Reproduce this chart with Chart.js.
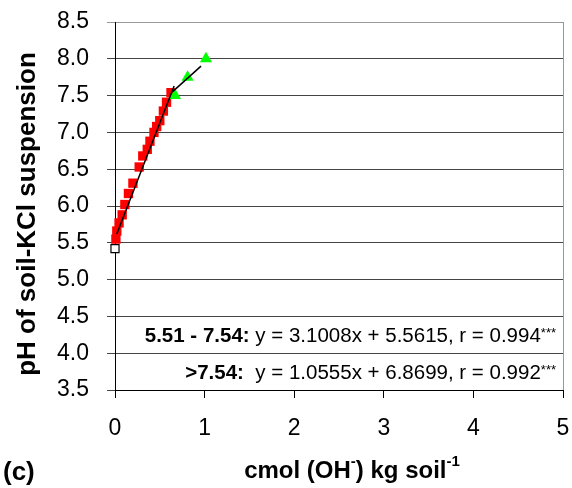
<!DOCTYPE html>
<html>
<head>
<meta charset="utf-8">
<script src="https://cdn.jsdelivr.net/npm/chart.js@4.4.1/dist/chart.umd.min.js"></script>
<style>
  html, body { margin: 0; padding: 0; background: #fff; }
  #wrap { width: 572px; height: 488px; }
</style>
</head>
<body>
<div id="wrap"><canvas id="chart"></canvas></div>
<script>
// pH 5.51 - 7.54 range (red squares)
const redX = [0.01, 0.02, 0.045, 0.08, 0.11, 0.15, 0.20, 0.27, 0.31, 0.36, 0.39, 0.435, 0.465, 0.50, 0.54, 0.575, 0.625];
const redY = [5.55, 5.66, 5.77, 5.88, 6.02, 6.17, 6.31, 6.53, 6.68, 6.77, 6.88, 7.00, 7.08, 7.16, 7.29, 7.41, 7.54];
// pH > 7.54 (green triangles)
const greenX = [0.67, 0.81, 1.015];
const greenY = [7.50, 7.75, 8.00];
// initial point (open square)
const startX = [0];
const startY = [5.42];
// fitted line ends
const fit1X = [0.02, 0.66];
const fit1Y = [5.62, 7.63];
const fit2X = [0.64, 0.96];
const fit2Y = [7.55, 7.90];

const xTicks = [0, 1, 2, 3, 4, 5];
const yTicks = [3.5, 4.0, 4.5, 5.0, 5.5, 6.0, 6.5, 7.0, 7.5, 8.0, 8.5];

const eq1 = ["5.51 - 7.54: ", "y = 3.1008x + 5.5615, r = 0.994", "***"];
const eq2 = [">7.54: ", " y = 1.0555x + 6.8699, r = 0.992", "***"];

const pts = (xs, ys) => xs.map((x, i) => ({ x, y: ys[i] }));
const FONT = '"Liberation Sans", Arial, sans-serif';

// text pieces drawn on the canvas
const extras = {
  id: "extras",
  afterDraw(chart) {
    const { ctx, chartArea: a, scales } = chart;
    ctx.save();
    ctx.fillStyle = "#000";
    ctx.textBaseline = "alphabetic";

    // right frame edge
    ctx.strokeStyle = "#999";
    ctx.lineWidth = 1;
    ctx.beginPath();
    ctx.moveTo(a.right + 0.5, a.top);
    ctx.lineTo(a.right + 0.5, a.bottom);
    ctx.stroke();

    // equations, right aligned inside the plot
    function eq(parts, yv) {
      const base = scales.y.getPixelForValue(yv) + 7;
      ctx.font = "bold 20.5px " + FONT;
      const w0 = ctx.measureText(parts[0]).width;
      ctx.font = "20.5px " + FONT;
      const w1 = ctx.measureText(parts[1]).width;
      ctx.font = "13px " + FONT;
      const w2 = ctx.measureText(parts[2]).width;
      let x = a.right - 7 - (w0 + w1 + w2);
      ctx.textAlign = "left";
      ctx.font = "bold 20.5px " + FONT;
      ctx.fillText(parts[0], x, base); x += w0;
      ctx.font = "20.5px " + FONT;
      ctx.fillText(parts[1], x, base); x += w1;
      ctx.font = "13px " + FONT;
      ctx.fillText(parts[2], x, base - 5);
    }
    eq(eq1, 4.25);
    eq(eq2, 3.75);

    // x axis title with superscripts
    const runs = [["cmol (OH", 0], ["-", 1], [") kg soil", 0], ["-1", 1]];
    const wOf = r => { ctx.font = (r[1] ? "bold 15px " : "bold 24px ") + FONT; return ctx.measureText(r[0]).width; };
    const total = runs.reduce((s, r) => s + wOf(r), 0);
    let x = 352 - total / 2;
    const by = 478;
    ctx.textAlign = "left";
    runs.forEach(r => {
      const w = wOf(r);
      ctx.fillText(r[0], x, r[1] ? by - 12 : by);
      x += w;
    });

    // panel letter
    ctx.font = "bold 26px " + FONT;
    ctx.fillText("(c)", 3, 480);

    // y axis title
    ctx.translate(35, 214);
    ctx.rotate(-Math.PI / 2);
    ctx.textAlign = "center";
    ctx.font = "bold 26px " + FONT;
    ctx.fillText("pH of soil-KCl suspension", 0, 0);
    ctx.restore();
  }
};

new Chart(document.getElementById("chart"), {
  type: "scatter",
  data: {
    datasets: [
      { data: pts(fit1X, fit1Y), showLine: true, borderColor: "#000", borderWidth: 1.5, pointRadius: 0, order: 0 },
      { data: pts(fit2X, fit2Y), showLine: true, borderColor: "#000", borderWidth: 1.5, pointRadius: 0, order: 0 },
      { data: pts(greenX, greenY), pointStyle: "triangle", pointRadius: 7, backgroundColor: "#00ff00", borderWidth: 0, order: 1, clip: false },
      { data: pts(redX, redY), pointStyle: "rect", pointRadius: 6.6, backgroundColor: "#ff0000", borderWidth: 0, order: 2, clip: false },
      { data: pts(startX, startY), pointStyle: "rect", pointRadius: 5.7, backgroundColor: "#fff", borderColor: "#000", borderWidth: 1.2, order: 3, clip: false }
    ]
  },
  options: {
    responsive: true,
    maintainAspectRatio: false,
    animation: false,
    layout: { padding: { top: 22, right: 9, left: 0, bottom: 0 } },
    plugins: { legend: { display: false }, tooltip: { enabled: false } },
    scales: {
      x: {
        type: "linear", min: 0, max: 5,
        afterBuildTicks: s => { s.ticks = xTicks.map(v => ({ value: v })); },
        afterFit: s => { s.height = 98; s.paddingLeft = 0; s.paddingRight = 0; },
        ticks: { color: "#000", font: { family: FONT, size: 23 }, padding: 17, maxRotation: 0 },
        grid: { drawOnChartArea: false, color: "#000", tickLength: 8 },
        border: { color: "#000", width: 1 }
      },
      y: {
        min: 3.5, max: 8.5,
        afterBuildTicks: s => { s.ticks = yTicks.map(v => ({ value: v })); },
        afterFit: s => { s.width = 115; s.paddingTop = 0; s.paddingBottom = 0; },
        ticks: { color: "#000", font: { family: FONT, size: 23 }, padding: 18, callback: v => v.toFixed(1) },
        grid: { color: c => (c.tick && c.tick.value === 8.5 ? "#999" : "#444"), tickLength: 8 },
        border: { color: "#000", width: 1 }
      }
    }
  },
  plugins: [extras]
});
</script>
</body>
</html>
